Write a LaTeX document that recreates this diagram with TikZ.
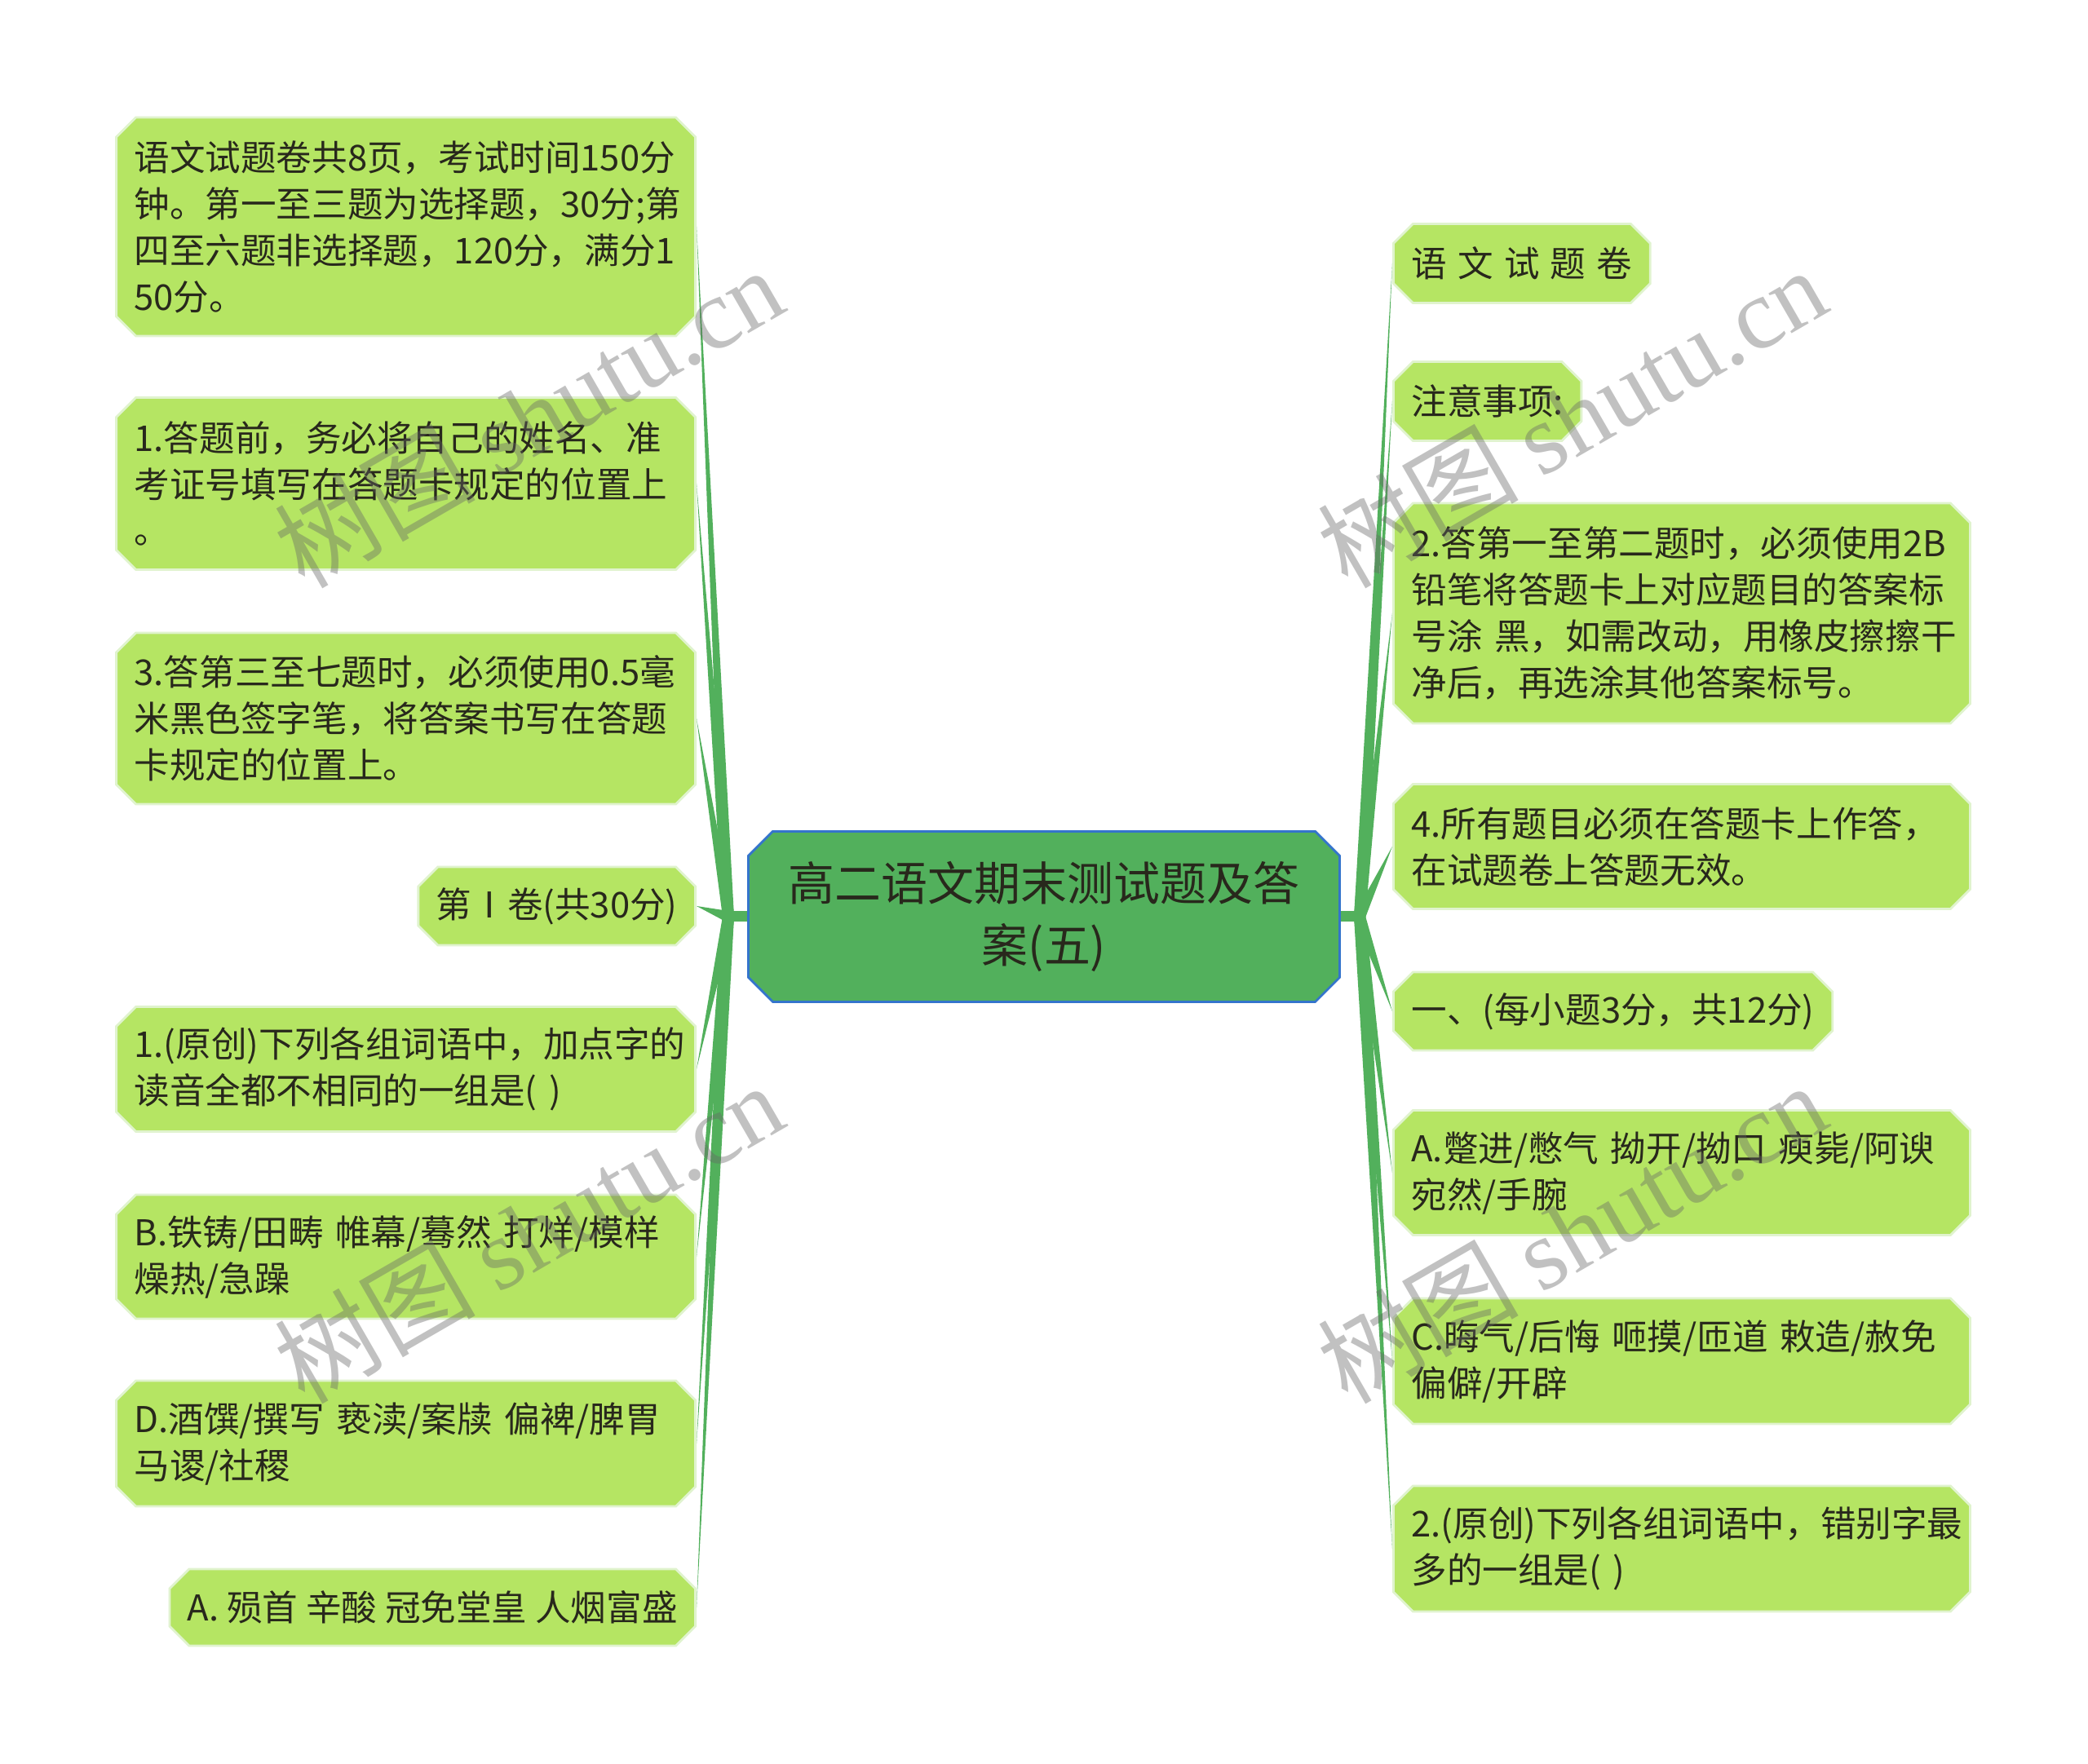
\documentclass[tikz,border=0pt]{standalone}
\usepackage{fontspec}
\setmainfont{Noto Sans CJK SC}
\newfontfamily\wmfont{Liberation Serif}
\usepackage{xcolor}
\definecolor{mmleaf}{RGB}{181,229,99}
\definecolor{mmleafline}{RGB}{224,243,206}
\definecolor{mmroot}{RGB}{82,176,92}
\definecolor{mmrootline}{RGB}{52,116,204}
\definecolor{mmbranch}{RGB}{82,176,92}
\definecolor{mmtext}{RGB}{40,40,28}
\newcommand{\leaffont}{\fontsize{12.4}{16.2}\selectfont}
\newcommand{\rootfont}{\fontsize{16.2}{21.8}\selectfont}
\newcommand{\gap}{\ \hspace{0.08em}}
\usetikzlibrary{shapes.misc,calc,positioning}

\begin{document}
\begin{tikzpicture}[
  leafbox/.style={chamfered rectangle,chamfered rectangle xsep=0.12cm,chamfered rectangle ysep=0.12cm,draw=mmleafline,line width=0.8pt,fill=mmleaf,text=mmtext,font=\leaffont,inner xsep=0.1cm,inner ysep=0.1cm,align=left},
  rootbox/.style={chamfered rectangle,chamfered rectangle xsep=0.15cm,chamfered rectangle ysep=0.15cm,draw=mmrootline,line width=0.8pt,fill=mmroot,text=mmtext,font=\rootfont,align=center,minimum width=7.25cm,minimum height=2.09cm},
  branch/.style={fill=mmbranch},
  stem/.style={draw=mmbranch,line width=3.7pt},
  wmark/.style={text=black!60,opacity=0.4,rotate=30,font=\fontsize{35}{35}\selectfont}]
  \fill[white] (0,0) rectangle (25.6,21.63);
  \useasboundingbox (0,0) rectangle (25.6,21.63);
  % centre
  \node[rootbox] (root) at (12.80,10.39) {高二语文期末测试题及答\\案(五)};
  \coordinate (jl) at (8.93,10.39);
  \coordinate (jr) at (16.67,10.39);
  % left side
  \node[leafbox,text width=6.66cm,minimum height=2.68cm,anchor=east] (l1) at (8.54,18.85) {语文试题卷共8页，考试时间150分\\钟。第一至三题为选择题，30分;第\\四至六题非选择题，120分，满分1\\50分。};
  \node[leafbox,text width=6.66cm,minimum height=2.11cm,anchor=east] (l2) at (8.54,15.70) {1.答题前，务必将自己的姓名、准\\考证号填写在答题卡规定的位置上\\。};
  \node[leafbox,text width=6.66cm,minimum height=2.10cm,anchor=east] (l3) at (8.54,12.82) {3.答第三至七题时，必须使用0.5毫\\米黑色签字笔，将答案书写在答题\\卡规定的位置上。};
  \node[leafbox,minimum height=0.96cm,anchor=east] (l4) at (8.54,10.52) {第Ⅰ卷(共30分)};
  \node[leafbox,text width=6.66cm,minimum height=1.53cm,anchor=east] (l5) at (8.54,8.52) {1.(原创)下列各组词语中，加点字的\\读音全都不相同的一组是( )};
  \node[leafbox,text width=6.66cm,minimum height=1.52cm,anchor=east] (l6) at (8.54,6.22) {B.铁铸/田畴 帷幕/蓦然 打烊/模样\\燥热/急躁};
  \node[leafbox,text width=6.66cm,minimum height=1.54cm,anchor=east] (l7) at (8.54,3.93) {D.酒馔/撰写 亵渎/案牍 偏裨/脾胃\\马谡/社稷};
  \node[leafbox,minimum height=0.94cm,anchor=east] (l8) at (8.54,1.92) {A. 殒首 辛酸 冠免堂皇 人烟富盛};
  % right side
  \node[leafbox,minimum height=0.97cm,anchor=west] (r1) at (17.07,18.40) {语\gap 文\gap 试\gap 题\gap 卷};
  \node[leafbox,minimum height=0.97cm,anchor=west] (r2) at (17.07,16.71) {注意事项:};
  \node[leafbox,text width=6.63cm,minimum height=2.70cm,anchor=west] (r3) at (17.07,14.11) {2.答第一至第二题时，必须使用2B\\铅笔将答题卡上对应题目的答案标\\号涂~黑，如需改动，用橡皮擦擦干\\净后，再选涂其他答案标号。};
  \node[leafbox,text width=6.63cm,minimum height=1.53cm,anchor=west] (r4) at (17.07,11.25) {4.所有题目必须在答题卡上作答，\\在试题卷上答题无效。};
  \node[leafbox,minimum height=0.96cm,anchor=west] (r5) at (17.07,9.23) {一、(每小题3分，共12分)};
  \node[leafbox,text width=6.63cm,minimum height=1.53cm,anchor=west] (r6) at (17.07,7.25) {A.蹩进/憋气 拗开/拗口 瘐毙/阿谀\\宛然/手腕};
  \node[leafbox,text width=6.63cm,minimum height=1.54cm,anchor=west] (r7) at (17.07,4.94) {C.晦气/后悔 咂摸/匝道 敕造/赦免\\偏僻/开辟};
  \node[leafbox,text width=6.63cm,minimum height=1.54cm,anchor=west] (r8) at (17.07,2.64) {2.(原创)下列各组词语中，错别字最\\多的一组是( )};
  % connectors
  \draw[stem] (root.west) -- (jl);
  \draw[stem] (root.east) -- (jr);
  \foreach \n in {l1,l2,l3,l4,l5,l6,l7,l8}
    \fill[branch] ($(jl)!0.7mm!90:(\n.east)$) -- (\n.east) -- ($(jl)!0.7mm!-90:(\n.east)$) -- cycle;
  \foreach \n in {r1,r2,r3,r4,r5,r6,r7,r8}
    \fill[branch] ($(jr)!0.7mm!90:(\n.west)$) -- (\n.west) -- ($(jr)!0.7mm!-90:(\n.west)$) -- cycle;
  % watermark
  \node[wmark] (wm1) at (6.48,16.52) {树图 {\wmfont shutu.cn}};
  \node[wmark] (wm2) at (19.27,16.52) {树图 {\wmfont shutu.cn}};
  \node[wmark] (wm3) at (6.48,6.52) {树图 {\wmfont shutu.cn}};
  \node[wmark] (wm4) at (19.27,6.52) {树图 {\wmfont shutu.cn}};
\end{tikzpicture}
\end{document}
